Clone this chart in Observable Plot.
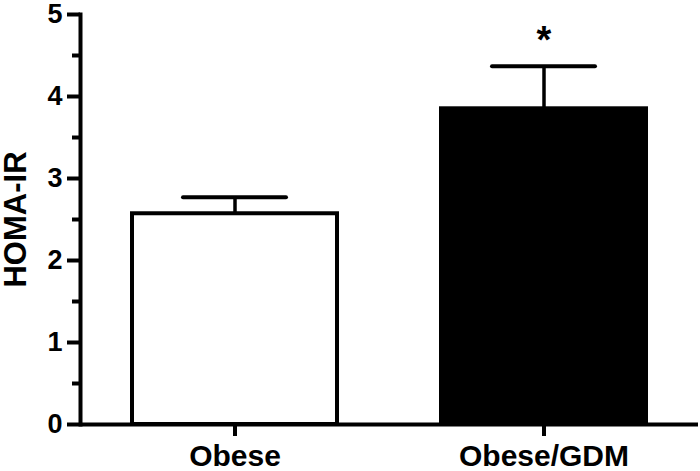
<!DOCTYPE html>
<html>
<head>
<meta charset="utf-8">
<script src="https://cdn.jsdelivr.net/npm/d3@7"></script>
<script src="https://cdn.jsdelivr.net/npm/@observablehq/plot@0.6"></script>
<style>
  html, body { margin: 0; padding: 0; background: #fff; }
  #chart svg { display: block; overflow: visible; }
</style>
</head>
<body>
<div id="chart"></div>
<script>
const groups = ["Obese", "Obese/GDM"];
const means = [2.57, 3.85];
const sems = [0.20, 0.52];
const sig = ["", "*"];
const yTicks = [0, 1, 2, 3, 4, 5];
const yMinorTicks = [0.5, 1.5, 2.5, 3.5, 4.5];
const yLabel = "HOMA-IR";
const fills = ["white", "black"];

const data = groups.map((g, i) => ({group: g, mean: means[i], sem: sems[i], hi: means[i] + sems[i], sig: sig[i], fill: fills[i]}));

const font = "'Liberation Sans', Arial, Helvetica, sans-serif";

// tick styling helpers: place rule ends just outside the frame (styling only; positions come from scales)
function leftTicks(len) {
  return function(index, scales, values, dimensions, context, next) {
    const g = next(index, scales, values, dimensions, context);
    g.querySelectorAll("line").forEach(l => {
      l.setAttribute("x1", dimensions.marginLeft - len);
      l.setAttribute("x2", dimensions.marginLeft);
    });
    return g;
  };
}
function bottomTicks(len) {
  return function(index, scales, values, dimensions, context, next) {
    const g = next(index, scales, values, dimensions, context);
    const yb = dimensions.height - dimensions.marginBottom;
    g.querySelectorAll("line").forEach(l => {
      l.setAttribute("y1", yb);
      l.setAttribute("y2", yb + len);
    });
    return g;
  };
}

const chart = Plot.plot({
  width: 700,
  height: 471,
  marginTop: 14,
  marginBottom: 47,
  marginLeft: 80,
  marginRight: 2,
  style: {fontFamily: font, color: "black", background: "white"},
  x: {domain: groups, paddingInner: 0.337, paddingOuter: 0.167, label: null},
  y: {domain: [0, 5], label: null},
  marks: [
    Plot.barY(data, {x: "group", y: "mean", fill: "fill", stroke: "black", strokeWidth: 4}),
    Plot.ruleX(data, {x: "group", y1: "mean", y2: "hi", stroke: "black", strokeWidth: 3.5}),
    Plot.tickY(data, {x: "group", y: "hi", stroke: "black", strokeWidth: 4, strokeLinecap: "round", insetLeft: 51, insetRight: 51}),
    Plot.text(data, {x: "group", y: "hi", text: "sig", fontSize: 38, fontWeight: "bold", lineAnchor: "bottom", dy: -13, fill: "black"}),
    Plot.ruleY([0], {stroke: "black", strokeWidth: 4}),
    Plot.frame({anchor: "left", stroke: "black", strokeWidth: 4}),
    Plot.ruleY(yTicks, {y: d => d, stroke: "black", strokeWidth: 4, render: leftTicks(13)}),
    Plot.ruleY(yMinorTicks, {y: d => d, stroke: "black", strokeWidth: 4, render: leftTicks(8)}),
    Plot.ruleX(groups, {x: d => d, stroke: "black", strokeWidth: 4, render: bottomTicks(12)}),
    Plot.axisY({ticks: yTicks, tickSize: 0, tickPadding: 18, tickFormat: d3.format("d"), fontSize: 27, fontWeight: "bold", label: null}),
    Plot.axisX({tickSize: 0, tickPadding: 20, fontSize: 30, fontWeight: "bold", label: null}),
    Plot.text([yLabel], {text: d => d, frameAnchor: "left", textAnchor: "middle", lineAnchor: "middle", rotate: -90, dx: -64, fontSize: 31, fontWeight: "bold", fill: "black"})
  ]
});
document.getElementById("chart").appendChild(chart);
</script>
</body>
</html>
